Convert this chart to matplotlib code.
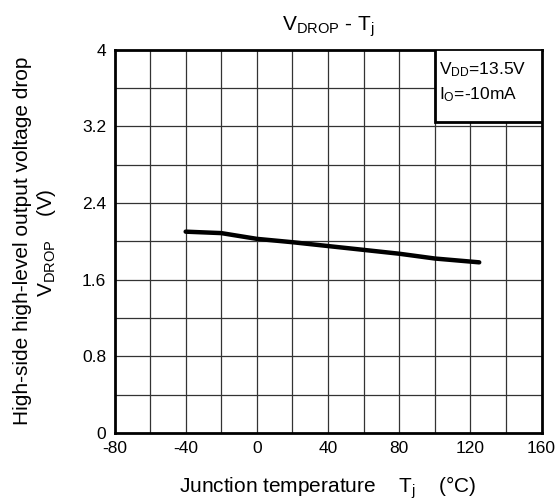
import matplotlib
matplotlib.use('Agg')
import matplotlib.pyplot as plt
import matplotlib.patches as mpatches
import numpy as np

# data
temp_c = [-40, -20, 0, 20, 40, 60, 80, 100, 125]
v_drop = [2.10, 2.085, 2.025, 1.99, 1.95, 1.91, 1.87, 1.82, 1.78]

x_ticks = [-80, -40, 0, 40, 80, 120, 160]
y_ticks = [0, 0.8, 1.6, 2.4, 3.2, 4]
y_tick_labels = ['0', '0.8', '1.6', '2.4', '3.2', '4']

plt.rcParams['font.family'] = ['Liberation Sans', 'DejaVu Sans']
plt.rcParams['mathtext.default'] = 'regular'
plt.rcParams['axes.unicode_minus'] = False

fig = plt.figure(figsize=(5.6, 5.03), dpi=100)
ax = fig.add_axes([114.5 / 560, 1 - 433 / 503, 427 / 560, 383.5 / 503])

ax.set_xlim(-80, 160)
ax.set_ylim(0, 4)

# grid every 20 degC / 0.4 V
for gx in np.arange(-60, 160, 20):
    ax.axvline(gx, color='#333333', lw=0.9, zorder=1)
for gy in np.arange(0.4, 4.0, 0.4):
    ax.axhline(gy, color='#333333', lw=0.9, zorder=1)

ax.plot(temp_c, v_drop, color='black', lw=3.2, solid_capstyle='round', zorder=3)

ax.set_xticks(x_ticks)
ax.set_yticks(y_ticks)
ax.set_yticklabels(y_tick_labels)
ax.tick_params(length=0, labelsize=12.5)
ax.tick_params(axis='x', pad=5.5)
ax.tick_params(axis='y', pad=6)

for s in ax.spines.values():
    s.set_linewidth(2)
    s.set_color('black')

# condition box in the upper right corner
box = mpatches.Rectangle((100, 3.24), 60, 0.76, facecolor='white',
                         edgecolor='black', lw=2, zorder=4)
ax.add_patch(box)
ax.text(102.5, 3.79, 'V$_{DD}$=13.5V', fontsize=12.5, va='center', ha='left', zorder=5)
ax.text(102.5, 3.53, 'I$_{O}$=-10mA', fontsize=12.5, va='center', ha='left', zorder=5)

fig.text(328 / 560, 1 - 27 / 503, 'V$_{DROP}$ - T$_{j}$', fontsize=15,
         ha='center', va='center')
fig.text(328 / 560, 1 - 488 / 503, 'Junction temperature    T$_{j}$    (\u00b0C)',
         fontsize=15, ha='center', va='center')
fig.text(23 / 560, 1 - 241 / 503, 'High-side high-level output voltage drop',
         fontsize=15, rotation=90, ha='center', va='center')
fig.text(46 / 560, 1 - 243 / 503, 'V$_{DROP}$    (V)',
         fontsize=15, rotation=90, ha='center', va='center')

fig.savefig('out.png', dpi=100, facecolor='white')
